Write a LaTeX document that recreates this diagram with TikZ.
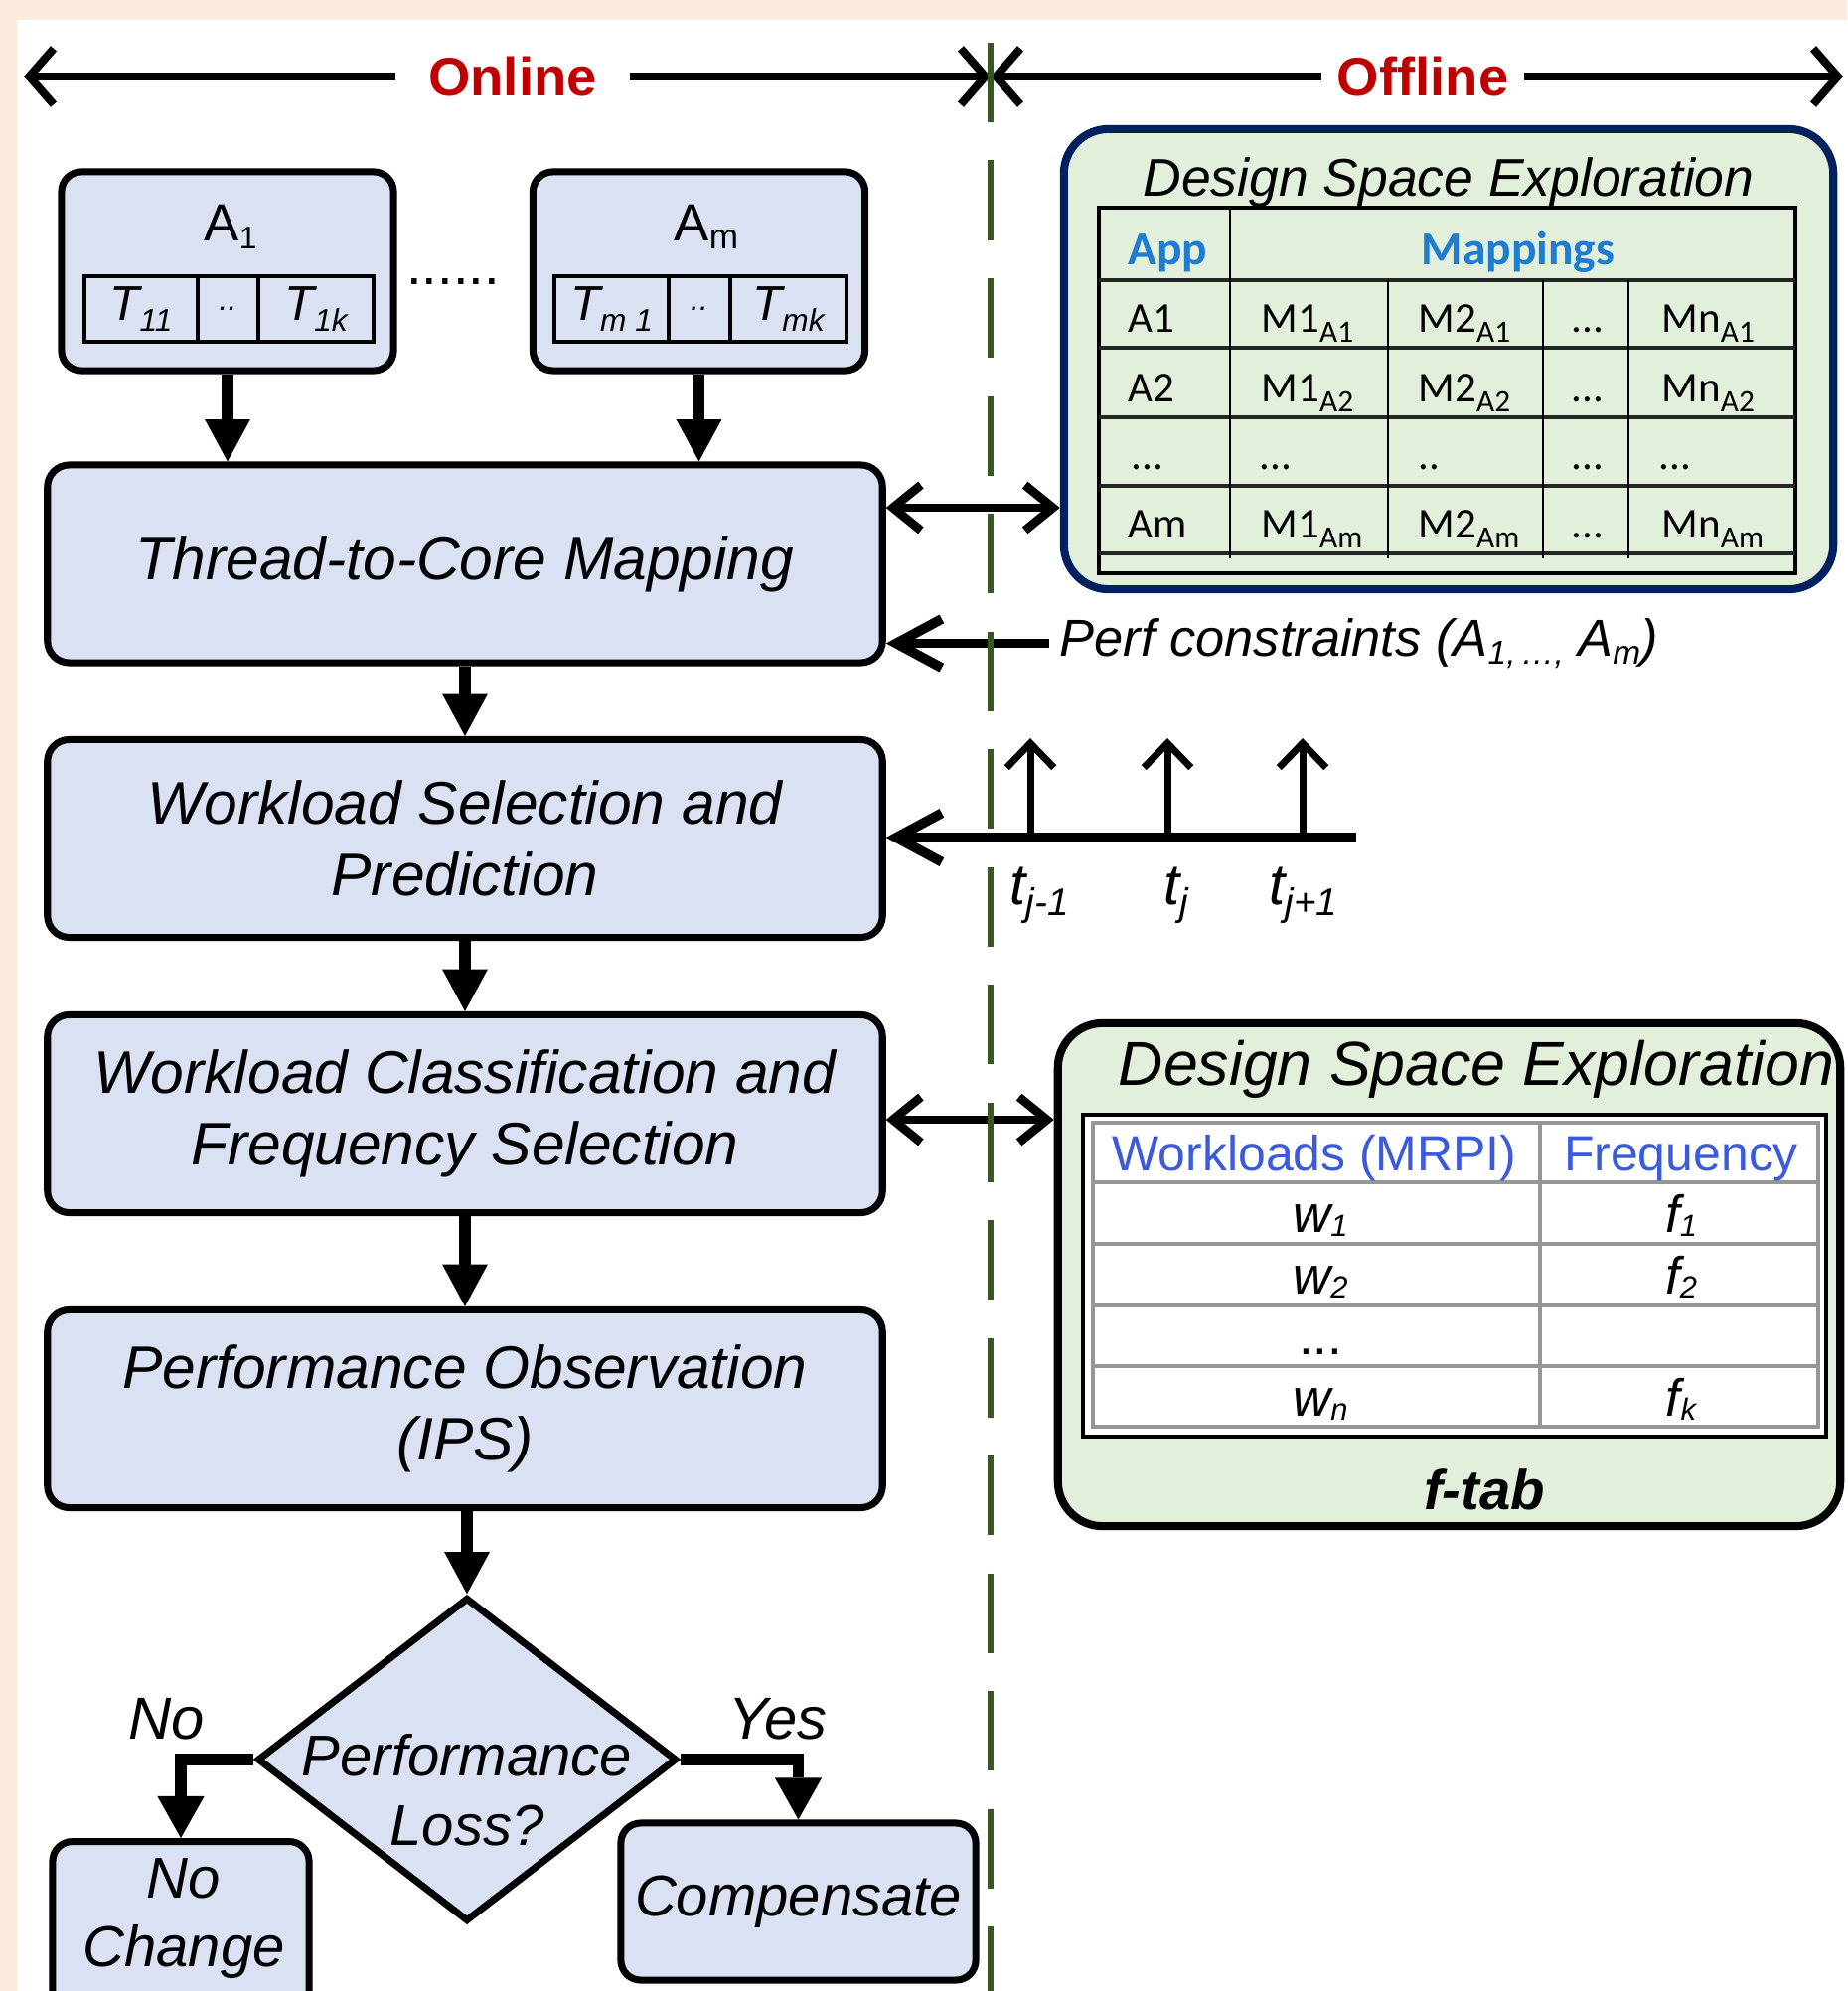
\documentclass[tikz,border=0pt]{standalone}
\usepackage{fontspec}
\setmainfont{Liberation Sans}
\newfontfamily\calfont{Carlito}
\usetikzlibrary{arrows.meta,shapes.geometric}

\definecolor{peach}{RGB}{253,234,222}
\definecolor{boxfill}{RGB}{218,225,243}
\definecolor{dsefill}{RGB}{226,239,218}
\definecolor{navy}{RGB}{0,32,96}
\definecolor{darkred}{RGB}{192,0,0}
\definecolor{hdrblue}{RGB}{30,125,210}
\definecolor{hdrblueb}{RGB}{60,90,220}
\definecolor{olive}{RGB}{56,87,35}
\definecolor{gridgray}{RGB}{150,150,150}

\newcommand{\fsz}[2]{\fontsize{#1}{#2}\selectfont}
% lowered subscripts for the various text sizes
\newcommand{\tsub}[1]{\raisebox{-3pt}{\fontsize{9}{10}\selectfont #1}}
\newcommand{\msub}[2]{#1\raisebox{-2.8pt}{\fontsize{8.9}{9}\selectfont #2}}
\newcommand{\wsub}[2]{#1\raisebox{-1.4pt}{\fontsize{8.8}{9}\selectfont #2}}
\newcommand{\psub}[1]{\raisebox{-2.5pt}{\fontsize{9.5}{10}\selectfont #1}}
\newcommand{\tjsub}[1]{\raisebox{-3.2pt}{\fontsize{11}{12}\selectfont #1}}

\begin{document}
\begin{tikzpicture}[x=0.01cm, y=-0.01cm,
  boxbase/.style={draw, line width=2pt, fill=boxfill, inner sep=0pt, align=center},
  flowbox/.style={boxbase, rounded corners=0.22cm, minimum width=8.4cm,
    minimum height=1.99cm, font=\fsz{17.2}{20.6}\itshape},
  appbox/.style={boxbase, rounded corners=0.2cm, minimum width=3.34cm, minimum height=2cm},
  smallbox/.style={boxbase, rounded corners=0.2cm, font=\fsz{16.5}{19.4}\itshape},
  tcell/.style={draw, line width=1.1pt, fill=boxfill, minimum height=0.66cm,
    inner sep=0pt, font=\fsz{14}{16}\itshape},
  decision/.style={diamond, draw, line width=2pt, fill=boxfill, minimum width=4.22cm,
    minimum height=3.26cm, inner sep=0pt},
  dsebox/.style={line width=2.3pt, fill=dsefill, rounded corners=0.45cm, inner sep=0pt},
  txt/.style={inner sep=0pt, align=center},
  ctxt/.style={inner sep=0pt, font=\calfont\fsz{12.2}{14}},
  htxt/.style={inner sep=0pt, font=\calfont\bfseries\fsz{13.5}{15}, text=hdrblue},
  gtxt/.style={inner sep=0pt, font=\fsz{14.2}{16}, text=hdrblueb},
  wtxt/.style={inner sep=0pt, font=\fsz{15}{16}\itshape},
  toplabel/.style={fill=white, text=darkred, font=\fsz{15.5}{18}\bfseries, inner ysep=0pt},
  gridline/.style={draw=gridgray, line width=0.9pt},
  flowarrow/.style={line width=3.2pt, -{Triangle[length=12pt,width=13pt,line width=0pt]}},
  decarrow/.style={line width=3.4pt, -{Triangle[length=12pt,width=13.5pt,line width=0pt]}},
  scalearrow/.style={line width=2.3pt, -{Straight Barb[length=7pt,width=16pt]}},
  dblarrow/.style={line width=2.5pt, {Straight Barb[length=8pt,width=13pt]}-{Straight Barb[length=8pt,width=13pt]}},
  perfarrow/.style={line width=2.8pt, -{Straight Barb[length=13pt,width=14pt]}},
  tickarrow/.style={line width=2pt, -{Straight Barb[length=7pt,width=13.5pt]}},
  dashline/.style={draw=olive, line width=1.5pt, dash pattern=on 22.8pt off 10.9pt}
]
\useasboundingbox (0,0) rectangle (1859,2004);
\begin{scope}
\clip (0,0) rectangle (1859,2004);
\fill[peach] (0,0) rectangle (1859,2004);
\fill[white] (17,20) rectangle (1859,2004);

% ---------- online / offline scale ----------
\node[toplabel, inner xsep=0.32cm] (online) at (516,77) {Online};
\node[toplabel, inner xsep=0.15cm] (offline) at (1432,77) {Offline};
\coordinate (ltip) at (24,77);
\coordinate (rtip) at (1855,77);
\coordinate (mid) at (997,77);
\draw[scalearrow] (online.west) -- (ltip);
\draw[scalearrow] (online.east) -- (mid);
\draw[scalearrow] (offline.west) -- (mid);
\draw[scalearrow] (offline.east) -- (rtip);

% ---------- applications ----------
\node[appbox] (a1) at (229,273) {};
\node[appbox] (am) at (703.5,273) {};
\node[txt, anchor=base, font=\fsz{15}{17}] (a1lbl) at (232,243) {A\raisebox{-2pt}{\fontsize{9}{10}\selectfont 1}};
\node[txt, anchor=base, font=\fsz{15}{17}] (amlbl) at (711,243) {A\raisebox{-2pt}{\fontsize{10}{11}\selectfont m}};

\node[tcell, minimum width=1.14cm] (t11) at (142,311) {T\tsub{11}};
\node[tcell, minimum width=0.61cm] (t1d) at (229.5,311) {\fontsize{9}{10}\selectfont ..};
\node[tcell, minimum width=1.16cm] (t1k) at (318,311) {T\tsub{1k}};
\node[tcell, minimum width=1.15cm] (tm1) at (615.5,311) {T\tsub{m 1}};
\node[tcell, minimum width=0.62cm] (tmd) at (704,311) {\fontsize{9}{10}\selectfont ..};
\node[tcell, minimum width=1.17cm] (tmk) at (793.5,311) {T\tsub{mk}};

\node[txt, anchor=base, font=\fsz{16}{18}] (appdots) at (456,287) {......};

% ---------- main flow ----------
\node[flowbox] (map) at (468,567.5) {Thread-to-Core Mapping};
\node[flowbox] (wsp) at (468,844) {Workload Selection and\\Prediction};
\node[flowbox] (wcfs) at (468,1121) {Workload Classification and\\Frequency Selection};
\node[flowbox] (po) at (468,1418) {Performance Observation\\(IPS)};
\node[decision] (dec) at (470,1771) {};
\node[txt, font=\fsz{16.5}{20}\itshape] (dectext) at (470,1802) {Performance\\Loss?};

\node[boxbase, rounded corners=0.2cm, minimum width=2.58cm, minimum height=2.3cm, anchor=north] (nochange) at (182,1850) {};
\node[txt, font=\fsz{16.5}{19.4}\itshape] (nctext) at (185,1931) {No\\Change};
\node[smallbox, minimum width=3.57cm, minimum height=1.58cm] (comp) at (803.5,1914) {Compensate};

\node[txt, anchor=base, font=\fsz{17}{19}\itshape] (nolbl) at (168,1750) {No};
\node[txt, anchor=base, font=\fsz{17}{19}\itshape] (yeslbl) at (783,1750) {Yes};

\draw[flowarrow] (a1.south) -- (a1.south |- map.north);
\draw[flowarrow] (am.south) -- (am.south |- map.north);
\draw[flowarrow] (map.south) -- (wsp.north);
\draw[flowarrow] (wsp.south) -- (wcfs.north);
\draw[flowarrow] (wcfs.south) -- (po.north);
\draw[flowarrow] (po.south -| dec.north) -- (dec.north);
\draw[decarrow] (dec.west) -| (nochange.north);
\draw[decarrow] (dec.east) -| (comp.north);

% ---------- mapping table (design space exploration) ----------
\node[dsebox, draw=navy, minimum width=7.74cm, minimum height=4.63cm] (dse1) at (1458,361.5) {};
\node[txt, anchor=base, font=\fsz{15.2}{18}\itshape] (dse1t) at (1458,198) {Design Space Exploration};
\draw[line width=1.3pt] (1106,209) rectangle (1807,577);
\foreach \yy in {282,350,420,489,557} \draw[line width=1.1pt, draw=black!85] (1106,\yy) -- (1807,\yy);
\draw[line width=0.8pt] (1238,209) -- (1238,562);
\foreach \xx in {1397,1553,1639} \draw[line width=0.8pt] (\xx,282) -- (\xx,562);

\node[htxt, anchor=base west] (apphdr) at (1135,267) {App};
\node[htxt, anchor=base] (maphdr) at (1528,267) {Mappings};
\foreach \yy/\ap in {335/A1,405/A2,542/Am}{
  \node[ctxt, anchor=base west] (row-\ap) at (1135,\yy) {\ap};
  \node[ctxt, anchor=base west] (m1-\ap) at (1269,\yy) {\msub{M1}{\ap}};
  \node[ctxt, anchor=base west] (m2-\ap) at (1427,\yy) {\msub{M2}{\ap}};
  \node[ctxt, anchor=base] (dd-\ap) at (1598,\yy) {...};
  \node[ctxt, anchor=base west] (mn-\ap) at (1672,\yy) {\msub{Mn}{\ap}};
}
\node[ctxt, anchor=base west] (gap1) at (1138,473) {...};
\node[ctxt, anchor=base west] (gap2) at (1267,473) {...};
\node[ctxt, anchor=base west] (gap3) at (1427,473) {..};
\node[ctxt, anchor=base] (gap4) at (1598,473) {...};
\node[ctxt, anchor=base west] (gap5) at (1669,473) {...};

\coordinate (y1) at (0,511);
\draw[dblarrow] (map.east |- y1) -- (dse1.west |- y1);

% ---------- performance constraints ----------
\node[anchor=base west, inner sep=0.1cm, font=\fsz{14.9}{17}\itshape] (perf) at (1056,660)
  {Perf constraints (A\psub{1,\,…,} A\psub{m})};
\draw[perfarrow] (perf.west) -- (map.east |- perf.west);

% ---------- time line ----------
\coordinate (tlend) at (1365,843);
\draw[perfarrow] (tlend) -- (wsp.east |- tlend);
\coordinate (tk1) at (1037,843);  \coordinate (tk1top) at (1037,743);
\coordinate (tk2) at (1175,843);  \coordinate (tk2top) at (1175,743);
\coordinate (tk3) at (1311,843);  \coordinate (tk3top) at (1311,743);
\draw[tickarrow] (tk1) -- (tk1top);
\draw[tickarrow] (tk2) -- (tk2top);
\draw[tickarrow] (tk3) -- (tk3top);
\node[txt, anchor=base, font=\fsz{16.5}{18}\itshape] (tl1) at (1046,910) {t\tjsub{j-1}};
\node[txt, anchor=base, font=\fsz{16.5}{18}\itshape] (tl2) at (1184,910) {t\tjsub{j}};
\node[txt, anchor=base, font=\fsz{16.5}{18}\itshape] (tl3) at (1312,910) {t\tjsub{j+1}};

% ---------- frequency table (design space exploration) ----------
\node[dsebox, draw=black, minimum width=7.87cm, minimum height=5.06cm] (dse2) at (1458.5,1283) {};
\node[txt, anchor=base, font=\fsz{17.8}{20}\itshape] (dse2t) at (1486,1092) {Design Space Exploration};
\draw[line width=1pt, fill=white] (1090,1122) rectangle (1838,1446);
\draw[gridline] (1100,1130) rectangle (1830,1436);
\foreach \yy in {1190,1252,1314,1375} \draw[gridline] (1100,\yy) -- (1830,\yy);
\draw[gridline] (1550,1130) -- (1550,1436);
\node[gtxt, anchor=base] (wlhdr) at (1323,1178) {Workloads (MRPI)};
\node[gtxt, anchor=base] (frhdr) at (1692,1178) {Frequency};
\node[wtxt, anchor=base] (w1) at (1329,1240) {\wsub{w}{1}};
\node[wtxt, anchor=base] (f1) at (1692,1240) {\wsub{f}{1}};
\node[wtxt, anchor=base] (w2) at (1329,1302) {\wsub{w}{2}};
\node[wtxt, anchor=base] (f2) at (1692,1302) {\wsub{f}{2}};
\node[txt, anchor=base, font=\fsz{15}{16}] (wdots) at (1329,1363) {...};
\node[wtxt, anchor=base] (wn) at (1329,1425) {\wsub{w}{n}};
\node[wtxt, anchor=base] (fk) at (1692,1425) {\wsub{f}{k}};
\node[txt, anchor=base, font=\fsz{16}{18}\bfseries\itshape] (ftab) at (1494,1519) {f-tab};

\coordinate (y2) at (0,1127);
\draw[dblarrow] (wcfs.east |- y2) -- (dse2.west |- y2);

% ---------- online / offline divider ----------
\coordinate (dtop) at (997,43);
\coordinate (dbot) at (997,2010);
\draw[dashline] (dtop) -- (dbot);
\end{scope}
\end{tikzpicture}
\end{document}
